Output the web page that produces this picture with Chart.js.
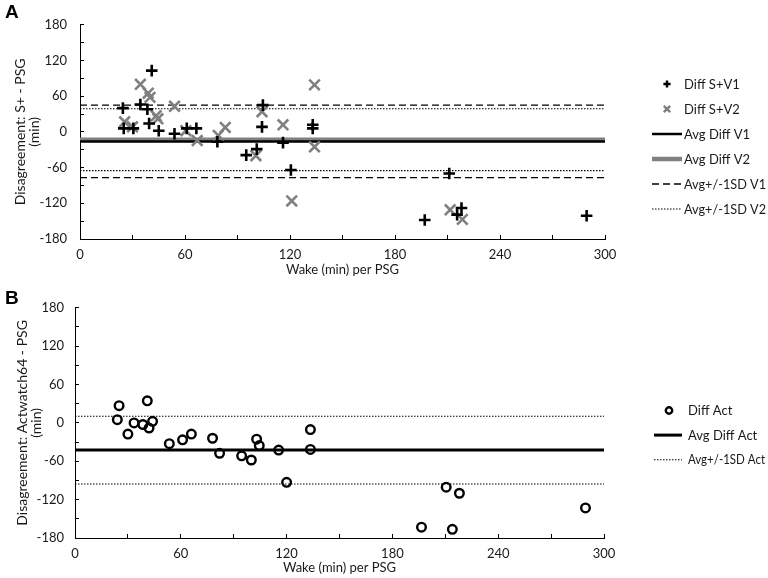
<!DOCTYPE html>
<html><head><meta charset="utf-8">
<script src="https://cdn.jsdelivr.net/npm/chart.js@4/dist/chart.umd.min.js"></script>
<style>
html,body{margin:0;padding:0;background:#fff;}
#wrap{position:relative;width:768px;height:578px;overflow:hidden;}
canvas{position:absolute;left:0;}
.lbl{position:absolute;left:5px;font:bold 19px "Liberation Sans",Arial,sans-serif;color:#000;}
</style></head>
<body><div id="wrap">
<canvas id="cA" width="768" height="285" style="top:0"></canvas>
<canvas id="cB" width="768" height="293" style="top:285px"></canvas>
<div class="lbl" style="top:1px">A</div>
<div class="lbl" style="top:287px">B</div>
</div>
<script>
// ---- data ----
const xTickLabels = [0, 60, 120, 180, 240, 300];
const yTickLabels = [-180, -120, -60, 0, 60, 120, 180];
const xRange = [0, 300];

const v1X = [24.5, 25, 30.5, 34.5, 38.5, 39.5, 41, 45, 54, 61, 66.5, 78.5, 95, 101, 104, 104.5, 116, 120.5, 133, 133, 197, 211, 215.5, 218, 289.5];
const v1Y = [40, 6, 6, 46, 38, 14, 103, 2, -3, 6, 6, -16.5, -39, -29, 8.5, 45, -18, -64, 12, 6, -148, -70, -139, -128, -141];

const v2X = [25.5, 30, 34.5, 39, 40, 43.5, 44.5, 54, 60.5, 67, 79, 83, 100.5, 104, 116, 121, 134, 134, 211.5, 218.5];
const v2Y = [17, 8.5, 80, 65, 58, 27, 22, 43, 2, -14.5, -6, 7.5, -40, 34, 12, -116, -25, 79, -131, -147];

const actX = [24, 25, 30, 33.5, 38.5, 41, 42, 44, 53.5, 61, 66, 78, 82, 94.5, 100, 103, 104.5, 115.5, 120, 133.5, 133.5, 196.5, 210.5, 214, 218, 289.5];
const actY = [5, 27, -17.5, 0, -2.5, 34.5, -8, 2.5, -32.5, -26.5, -17.5, -24, -47.5, -51.5, -58, -25.5, -35.5, -42.5, -93, -10.5, -41.5, -163, -100.5, -166.5, -110, -133];

const avgV1 = -16, sdV1Upper = 45, sdV1Lower = -77;
const avgV2 = -13, sdV2Upper = 39, sdV2Lower = -65;
const avgAct = -42.5, sdActUpper = 10.5, sdActLower = -95.5;

// ---- helpers ----
const FONT = 'Lato, "Open Sans", sans-serif';
const TXT = '#1a1a1a';
const GRAY = '#808080';
const pts = (xs, ys) => xs.map((x, i) => ({x: x, y: ys[i]}));
const hline = v => xRange.map(x => ({x: x, y: v}));

function lineDS(label, v, color, width, dash, order, hide) {
  return {label: label, data: hline(v), showLine: true, borderColor: color, backgroundColor: color,
    borderWidth: width, borderDash: dash, pointRadius: 0, pointHoverRadius: 0, order: order,
    hideInLegend: !!hide, kind: 'line'};
}
function pointDS(label, data, style, color, r, bw, order) {
  return {label: label, data: data, showLine: false, pointStyle: style, pointRadius: r, pointHoverRadius: r,
    pointBorderColor: color, pointBackgroundColor: 'rgba(0,0,0,0)', borderColor: color, backgroundColor: 'rgba(0,0,0,0)',
    pointBorderWidth: bw, order: order, kind: 'point'};
}

const sideLegend = {
  id: 'sideLegend',
  afterDraw(chart, args, o) {
    const ctx = chart.ctx;
    ctx.save();
    ctx.font = '13px ' + FONT;
    ctx.fillStyle = TXT;
    ctx.textBaseline = 'middle';
    ctx.textAlign = 'left';
    let i = 0;
    chart.data.datasets.forEach(ds => {
      if (ds.hideInLegend) return;
      const y = o.y0 + i * o.dy;
      i++;
      ctx.save();
      ctx.strokeStyle = ds.borderColor;
      if (ds.kind === 'line') {
        ctx.lineWidth = ds.borderWidth;
        ctx.setLineDash(ds.borderDash || []);
        ctx.beginPath(); ctx.moveTo(o.lx0, y); ctx.lineTo(o.lx1, y); ctx.stroke();
      } else {
        ctx.lineWidth = 2.4;
        ctx.setLineDash([]);
        ctx.beginPath();
        if (ds.pointStyle === 'cross') {
          const r = 3.6;
          ctx.moveTo(o.mx - r, y); ctx.lineTo(o.mx + r, y);
          ctx.moveTo(o.mx, y - r); ctx.lineTo(o.mx, y + r);
        } else if (ds.pointStyle === 'crossRot') {
          const r = 3.2;
          ctx.moveTo(o.mx - r, y - r); ctx.lineTo(o.mx + r, y + r);
          ctx.moveTo(o.mx + r, y - r); ctx.lineTo(o.mx - r, y + r);
        } else {
          ctx.arc(o.mx, y, 3.2, 0, Math.PI * 2);
        }
        ctx.stroke();
      }
      ctx.restore();
      ctx.fillText(ds.label, o.tx, y + 0.5, o.maxW);
    });
    ctx.restore();
  }
};

function scales(o) {
  return {
    x: {type: 'linear', position: 'bottom', min: 0, max: 300,
      ticks: {stepSize: 30, autoSkip: false, maxRotation: 0, minRotation: 0, padding: 12, color: TXT,
        font: {family: FONT, size: 13}, callback: v => xTickLabels.includes(v) ? String(v) : ''},
      grid: {drawOnChartArea: false, drawTicks: true, tickLength: -4, color: '#000', lineWidth: 1},
      border: {display: true, color: '#000', width: 1},
      title: {display: true, text: 'Wake (min) per PSG', color: TXT, font: {family: FONT, size: 13, lineHeight: 1.15},
        padding: {top: 0, bottom: o.xTitlePad}},
      afterFit: s => { s.height = o.xH; }},
    y: {type: 'linear', position: 'left', min: -180, max: 180,
      ticks: {stepSize: 30, autoSkip: false, padding: o.yPad, color: TXT, font: {family: FONT, size: 13},
        callback: v => yTickLabels.includes(v) ? String(v) : ''},
      grid: {drawOnChartArea: false, drawTicks: true, tickLength: -4, color: '#000', lineWidth: 1},
      border: {display: true, color: '#000', width: 1},
      title: {display: true, text: o.yTitle, color: TXT, font: {family: FONT, size: 14, lineHeight: 1.07},
        padding: {top: o.yTitlePad, bottom: 0}},
      afterFit: s => { s.width = o.yW; }}
  };
}

const common = {
  responsive: false, animation: false, events: [],
  plugins: {legend: {display: false}, tooltip: {enabled: false}},
};

new Chart(document.getElementById('cA'), {
  type: 'scatter',
  data: {datasets: [
    pointDS('Diff S+V1', pts(v1X, v1Y), 'cross', '#000', 5.8, 2.6, 0),
    pointDS('Diff S+V2', pts(v2X, v2Y), 'crossRot', GRAY, 7.5, 2.6, 1),
    lineDS('Avg Diff V1', avgV1, '#000', 2.5, [], 5),
    lineDS('Avg Diff V2', avgV2, GRAY, 4.5, [], 6),
    lineDS('Avg+/-1SD V1', sdV1Upper, '#000', 1.3, [7, 4], 3),
    lineDS('Avg+/-1SD V2', sdV2Upper, '#000', 1.1, [1.5, 1.5], 4),
    lineDS('Avg+/-1SD V1', sdV1Lower, '#000', 1.3, [7, 4], 3, true),
    lineDS('Avg+/-1SD V2', sdV2Lower, '#000', 1.1, [1.5, 1.5], 4, true)
  ]},
  options: Object.assign({}, common, {
    layout: {padding: {top: 15, right: 163, left: 0, bottom: 0}},
    scales: scales({xH: 46, xTitlePad: 7.5, yPad: 17, yW: 80, yTitlePad: 12.5,
      yTitle: ['Disagreement: S+ - PSG', '(min)']}),
    plugins: Object.assign({}, common.plugins, {sideLegend: {y0: 84, dy: 25, mx: 667, lx0: 652, lx1: 682, tx: 684, maxW: 82}})
  }),
  plugins: [sideLegend]
});

new Chart(document.getElementById('cB'), {
  type: 'scatter',
  data: {datasets: [
    pointDS('Diff Act', pts(actX, actY), 'circle', '#000', 4.3, 2.4, 0),
    lineDS('Avg Diff Act', avgAct, '#000', 3, [], 3),
    lineDS('Avg+/-1SD Act', sdActUpper, '#000', 1.1, [1.5, 1.5], 4),
    lineDS('Avg+/-1SD Act', sdActLower, '#000', 1.1, [1.5, 1.5], 4, true)
  ]},
  options: Object.assign({}, common, {
    layout: {padding: {top: 15, right: 164, left: 0, bottom: 0}},
    scales: scales({xH: 40, xTitlePad: 2.5, yPad: 15, yW: 75, yTitlePad: 14.5,
      yTitle: ['Disagreement: Actwatch64 - PSG', '(min)']}),
    plugins: Object.assign({}, common.plugins, {sideLegend: {y0: 125.5, dy: 24.6, mx: 669, lx0: 654, lx1: 682, tx: 688, maxW: 77}})
  }),
  plugins: [sideLegend]
});
</script>
</body></html>
